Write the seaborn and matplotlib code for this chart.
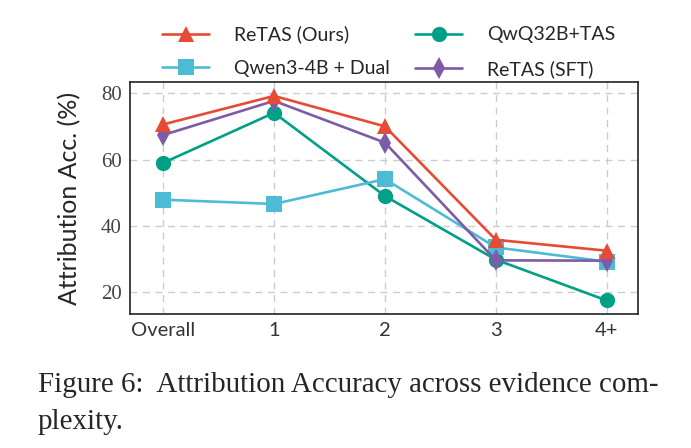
import matplotlib.pyplot as plt
import pandas as pd
import seaborn as sns

CATEGORIES = ['Overall', '1', '2', '3', '4+']

RETAS_OURS = [70.6, 79.2, 70.0, 35.8, 32.5]
QWEN3_DUAL = [47.9, 46.6, 54.1, 33.5, 29.2]
QWQ_TAS = [59.0, 74.1, 49.0, 29.8, 17.5]
RETAS_SFT = [67.4, 77.7, 65.1, 29.6, 29.5]

SERIES = {
    'QwQ32B+TAS': QWQ_TAS,
    'Qwen3-4B + Dual': QWEN3_DUAL,
    'ReTAS (SFT)': RETAS_SFT,
    'ReTAS (Ours)': RETAS_OURS,
}
LEGEND_ORDER = ['ReTAS (Ours)', 'Qwen3-4B + Dual', 'QwQ32B+TAS', 'ReTAS (SFT)']

PALETTE = {
    'ReTAS (Ours)': '#E64B35',
    'Qwen3-4B + Dual': '#4DBBD5',
    'QwQ32B+TAS': '#00A087',
    'ReTAS (SFT)': '#7D5BA6',
}
MARKERS = {
    'ReTAS (Ours)': '^',
    'Qwen3-4B + Dual': 's',
    'QwQ32B+TAS': 'o',
    'ReTAS (SFT)': 'd',
}


def main():
    df = pd.DataFrame([
        {'complexity': c, 'acc': v, 'model': name}
        for name, values in SERIES.items()
        for c, v in zip(CATEGORIES, values)
    ])

    sns.set_style('white')
    fig = plt.figure(figsize=(6.91, 4.48), dpi=100)
    ax = fig.add_axes([0.188, 0.299, 0.735, 0.518])

    sns.lineplot(
        data=df, x='complexity', y='acc', hue='model', style='model',
        hue_order=list(SERIES), style_order=list(SERIES),
        palette=PALETTE, markers=MARKERS, dashes=False,
        markersize=11, linewidth=1.9, markeredgewidth=0, ax=ax,
    )

    ax.set_xlim(-0.3, 4.28)
    ax.set_ylim(13.4, 83.4)
    ax.set_yticks([20, 40, 60, 80])
    ax.grid(True, linestyle=(0, (5, 4)), color='#cccccc', linewidth=1.0)
    ax.set_axisbelow(True)
    for spine in ax.spines.values():
        spine.set_color('#222222')
        spine.set_linewidth(1.2)
    ax.tick_params(length=0, pad=6)

    for lab in ax.get_xticklabels():
        lab.set_fontfamily('Lato')
        lab.set_fontsize(14.5)
        lab.set_color('#333333')
    for lab in ax.get_yticklabels():
        lab.set_fontfamily('Liberation Serif')
        lab.set_fontsize(15)
        lab.set_color('#444444')

    ax.set_xlabel('')
    ax.set_ylabel('Attribution Acc. (%)', fontfamily='Lato', fontsize=18, labelpad=14)

    handles, labels = ax.get_legend_handles_labels()
    lookup = dict(zip(labels, handles))
    ax.get_legend().remove()
    fig.legend(
        [lookup[k] for k in LEGEND_ORDER], LEGEND_ORDER,
        ncol=2, loc='upper center', bbox_to_anchor=(0.563, 0.982),
        frameon=False, prop={'family': 'Lato', 'size': 14},
        handlelength=2.4, columnspacing=1.3, handletextpad=1.3, labelspacing=0.85,
    )

    fig.text(0.055, 0.141, 'Figure 6:  Attribution Accuracy across evidence com-',
             fontfamily='Liberation Serif', fontsize=20.9, va='center')
    fig.text(0.055, 0.058, 'plexity.',
             fontfamily='Liberation Serif', fontsize=20.9, va='center')

    fig.savefig('out.png', dpi=100)
    plt.close(fig)


if __name__ == '__main__':
    main()
